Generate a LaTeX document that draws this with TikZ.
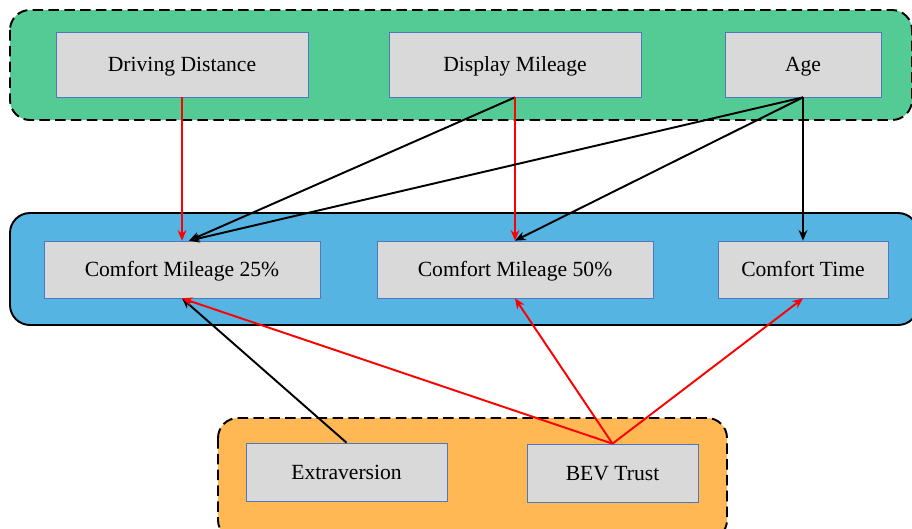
\documentclass[tikz,border=0pt]{standalone}
\usepackage{fontspec}
\setmainfont{Liberation Serif}
\usetikzlibrary{arrows.meta,positioning}
\definecolor{grpgreen}{RGB}{84,203,149}
\definecolor{grpblue}{RGB}{86,180,227}
\definecolor{grporange}{RGB}{255,184,84}
\definecolor{boxgray}{RGB}{217,217,217}
\definecolor{boxline}{RGB}{80,120,190}
\tikzset{
  var/.style={draw=boxline,fill=boxgray,inner sep=0pt,text height=2.2ex,text depth=0.4ex,
    font=\fontsize{12.3}{14}\selectfont},
  grp/.style={draw=black,line width=1.1pt,rounded corners=0.4cm},
  lnk/.style={line width=1.1pt,-{Stealth[length=6pt,width=5pt]}},
  redlnk/.style={lnk,red}
}
\begin{document}
\begin{tikzpicture}[x=0.02cm,y=-0.02cm]
          \useasboundingbox (0,0) rectangle (912,528);
          % groups
          \draw[grp,fill=grpgreen,dash pattern=on 6pt off 3pt] (10,10) rectangle (912,120);
          \draw[grp,fill=grpblue] (10,213) rectangle (918,325);
          \draw[grp,fill=grporange,dash pattern=on 6pt off 3pt] (218,418) rectangle (727,540);
          % top row
          \node(dist)[var,minimum width=5.04cm,minimum height=1.3cm] at (182,64.5){Driving Distance};
          \node(disp)[var,minimum width=5.04cm,minimum height=1.3cm] at (515,64.5){Display Mileage};
          \node(age)[var,minimum width=3.12cm,minimum height=1.3cm] at (803,64.5){Age};
          % middle row
          \node(cm25)[var,minimum width=5.52cm,minimum height=1.14cm] at (182,269.5){Comfort Mileage 25\%};
          \node(cm50)[var,minimum width=5.52cm,minimum height=1.14cm] at (515,269.5){Comfort Mileage 50\%};
          \node(ctime)[var,minimum width=3.4cm,minimum height=1.14cm] at (803,269.5){Comfort Time};
          % bottom row
          \node(extra)[var,minimum width=4.02cm,minimum height=1.16cm] at (346.5,472){Extraversion};
          \node(trust)[var,minimum width=3.42cm,minimum height=1.16cm] at (612.5,473){BEV Trust};
          \path[redlnk] (dist.south) edge (cm25.north);
          \path[lnk] (disp.south) edge ([xshift=4pt]cm25.north);
          \path[redlnk] (disp.south) edge (cm50.north);
          \path[lnk] (age.south) edge ([xshift=4pt]cm25.north);
          \path[lnk] (age.south) edge (cm50.north);
          \path[lnk] (age.south) edge (ctime.north);
          \path[lnk] (extra.north) edge (cm25.south);
          \path[redlnk] (trust.north) edge (cm25.south);
          \path[redlnk] (trust.north) edge (cm50.south);
          \path[redlnk] (trust.north) edge (ctime.south);
        \end{tikzpicture}
\end{document}
